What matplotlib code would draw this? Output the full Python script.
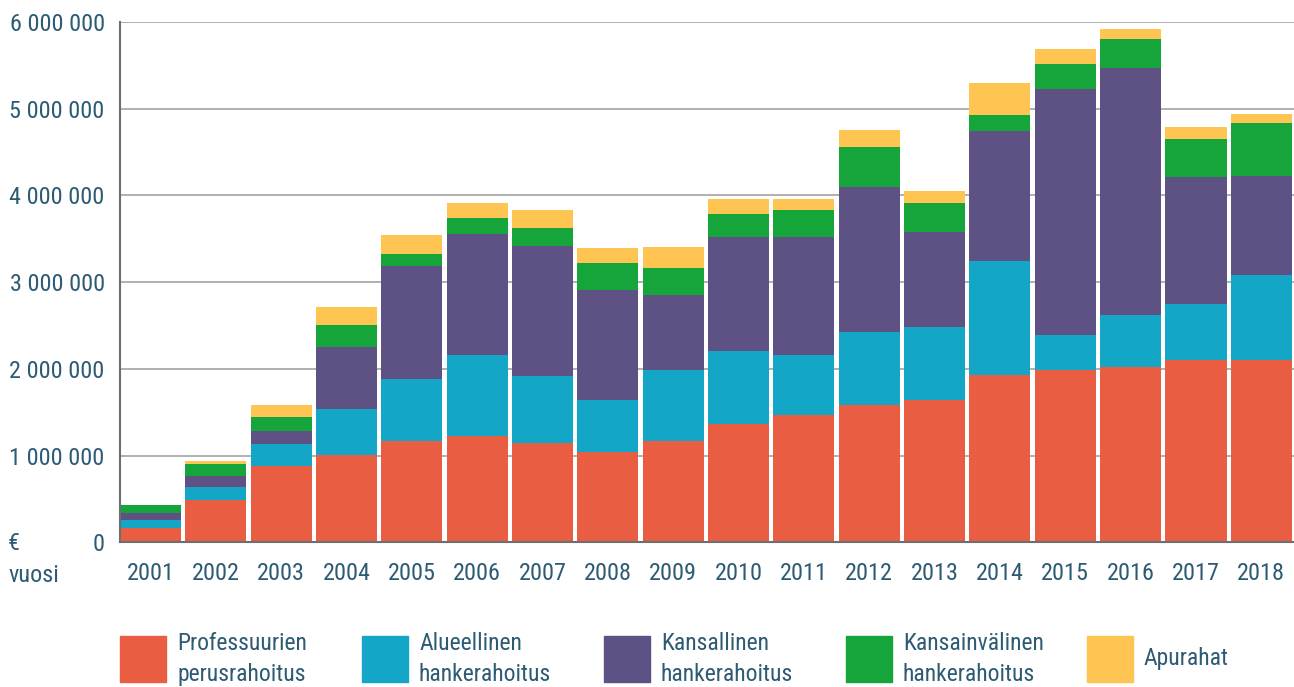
import matplotlib
matplotlib.use("Agg")
import matplotlib.pyplot as plt
from matplotlib.patches import Rectangle
import numpy as np

years = ["2001", "2002", "2003", "2004", "2005", "2006", "2007", "2008", "2009",
         "2010", "2011", "2012", "2013", "2014", "2015", "2016", "2017", "2018"]

professuurien = [169000, 493000, 884000, 1007000, 1169000, 1230000, 1146000, 1046000, 1169000,
                 1369000, 1469000, 1584000, 1646000, 1927000, 1992000, 2023000, 2107000, 2107000]
alueellinen = [88000, 147000, 250000, 531000, 715000, 931000, 773000, 596000, 819000,
               838000, 692000, 842000, 838000, 1319000, 400000, 600000, 639000, 977000]
kansallinen = [80000, 126000, 154000, 715000, 1304000, 1400000, 1503000, 1273000, 865000,
               1316000, 1362000, 1673000, 1100000, 1492000, 2830000, 2849000, 1469000, 1142000]
kansainvalinen = [92000, 139000, 158000, 254000, 138000, 181000, 204000, 308000, 312000,
                  265000, 311000, 462000, 331000, 192000, 297000, 335000, 439000, 612000]
apurahat = [0, 35000, 138000, 208000, 220000, 173000, 208000, 173000, 242000,
            173000, 127000, 196000, 138000, 369000, 173000, 116000, 138000, 104000]

series_names = ["Professuurien\nperusrahoitus", "Alueellinen\nhankerahoitus",
                "Kansallinen\nhankerahoitus", "Kansainvälinen\nhankerahoitus", "Apurahat"]
series = [professuurien, alueellinen, kansallinen, kansainvalinen, apurahat]
colors = ["#E95E43", "#13A6C6", "#5E5184", "#15A53A", "#FEC553"]

y_ticks = [0, 1000000, 2000000, 3000000, 4000000, 5000000, 6000000]
y_ticklabels = ["0", "1 000 000", "2 000 000", "3 000 000", "4 000 000", "5 000 000", "6 000 000"]

FONT = ["Roboto Condensed", "Archivo Narrow", "DejaVu Sans"]
TXT = "#2d5b74"
FS = 17.5
FS_LEG = 17
plt.rcParams["font.family"] = FONT

W, H = 1294, 687
fig = plt.figure(figsize=(W / 100, H / 100), dpi=100)
ax = fig.add_axes([120 / W, 1 - 542.3 / H, (1294 - 120) / W, (542.3 - 22) / H])

x = np.arange(len(years))
bottom = np.zeros(len(years))
for vals, c in zip(series, colors):
    v = np.array(vals, dtype=float)
    ax.bar(x, v, bottom=bottom, width=0.934, color=c, edgecolor="none", zorder=3)
    bottom += v

ax.set_xlim(-0.467, 17.5)
ax.set_ylim(0, 6000000)
ax.set_yticks(y_ticks)
ax.set_yticklabels(y_ticklabels)
ax.set_xticks(x)
ax.set_xticklabels(years)
ax.tick_params(axis="y", length=0, pad=11, labelsize=FS, labelcolor=TXT)
ax.tick_params(axis="x", length=0, pad=14.5, labelsize=FS, labelcolor=TXT)
for t in y_ticks[1:]:
    ax.axhline(t, color="#aaaaaa", lw=1.3, zorder=1)
for s in ["top", "right"]:
    ax.spines[s].set_visible(False)
for s in ["left", "bottom"]:
    ax.spines[s].set_color("#6e6e6e")
    ax.spines[s].set_linewidth(1.5)
    ax.spines[s].set_zorder(4)

fig.text(8 / W, 1 - 543 / H, "€", ha="left", va="center", fontsize=FS, color=TXT)
fig.text(8 / W, 1 - 575 / H, "vuosi", ha="left", va="center", fontsize=FS, color=TXT)

# legend
leg_x = [120, 362, 604, 846, 1087]
for lx, name, c in zip(leg_x, series_names, colors):
    fig.patches.append(Rectangle((lx / W, 1 - 682 / H), 46 / W, 46 / H,
                                 transform=fig.transFigure, color=c, figure=fig))
    fig.text((lx + 57) / W, 1 - 659 / H, name, ha="left", va="center",
             fontsize=FS_LEG, color=TXT, linespacing=1.45)

fig.savefig("out.png", dpi=100)
